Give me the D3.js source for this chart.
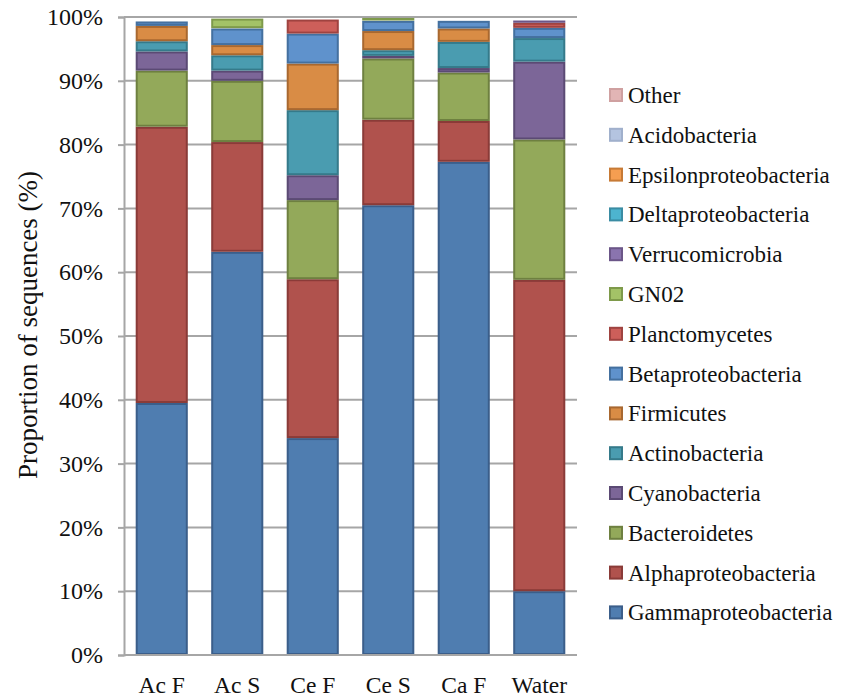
<!DOCTYPE html>
<html>
<head>
<meta charset="utf-8">
<script src="https://cdn.jsdelivr.net/npm/d3@7"></script>
<style>
  body { margin: 0; background: #fff; }
  svg text { font-family: "Liberation Serif", "Times New Roman", Times, "DejaVu Serif", serif !important; fill: #111; }
</style>
</head>
<body>
<svg id="chart" width="843" height="698"></svg>
<script>
// Samples along the x axis
const categories = ["Ac F", "Ac S", "Ce F", "Ce S", "Ca F", "Water"];

// Series in stacking order (bottom to top)
const seriesNames = ["Gammaproteobacteria", "Alphaproteobacteria", "Bacteroidetes", "Cyanobacteria",
    "Actinobacteria", "Firmicutes", "Betaproteobacteria", "Planctomycetes", "GN02",
    "Verrucomicrobia", "Deltaproteobacteria", "Epsilonproteobacteria", "Acidobacteria", "Other"];

// Percent of sequences per sample, one array per taxon (same order as categories)
const gamma    = [39.5, 63.2, 34.0, 70.5, 77.3, 10.0];
const alpha    = [43.3, 17.2, 24.9, 13.4, 6.4, 48.8];
const bacter   = [8.8, 9.6, 12.4, 9.6, 7.6, 22.0];
const cyano    = [3.0, 1.6, 3.9, 0.4, 0.7, 12.2];
const actino   = [1.6, 2.4, 10.2, 0.9, 4.1, 3.7];
const firmic   = [2.4, 1.6, 7.3, 3.0, 2.1, 0.0];
const beta     = [0.7, 2.6, 4.7, 1.6, 1.2, 1.6];
const plancto  = [0.3, 0.05, 2.2, 0.05, 0.05, 0.8];
const gn02     = [0.05, 1.5, 0.05, 0.4, 0.2, 0.0];
const verruco  = [0.05, 0.1, 0.05, 0.05, 0.15, 0.35];
const delta    = [0.05, 0.05, 0.2, 0.0, 0.05, 0.0];
const epsilon  = [0.05, 0.0, 0.0, 0.0, 0.0, 0.25];
const acido    = [0.0, 0.0, 0.05, 0.0, 0.0, 0.0];
const other    = [0.2, 0.1, 0.05, 0.1, 0.15, 0.3];

const yTicks = [0, 0.1, 0.2, 0.3, 0.4, 0.5, 0.6, 0.7, 0.8, 0.9, 1.0];

const fills   = ["#4f7db0", "#b0524d", "#93a95a", "#7c6698", "#4a9cb0", "#d98c45", "#5f92cc",
                 "#cd5f5a", "#a3c267", "#8a74ae", "#4db4cf", "#f59e51", "#b4c4e0", "#e2b5b5"];
const strokes = ["#3b5e8a", "#8a3b38", "#6e8040", "#5b4a74", "#357a8a", "#a86830", "#44709f",
                 "#9f4340", "#7e9a4a", "#6b5688", "#3a8ca3", "#c77a35", "#a0b0cc", "#cfa0a0"];

const allSeries = [gamma, alpha, bacter, cyano, actino, firmic, beta, plancto, gn02,
    verruco, delta, epsilon, acido, other];

// build table for d3.stack
const table = categories.map((c, i) => {
    const row = { cat: c };
    seriesNames.forEach((s, j) => { row[s] = allSeries[j][i]; });
    return row;
});

const svg = d3.select("#chart");
const plotLeft = 124, plotRight = 577, plotTop = 17, plotBottom = 655;

const x = d3.scaleBand()
    .domain(categories)
    .range([plotLeft, plotRight])
    .paddingInner(0.31)
    .paddingOuter(0.155);

const y = d3.scaleLinear()
    .domain([0, 1])
    .range([plotBottom, plotTop]);

const color = d3.scaleOrdinal().domain(seriesNames).range(fills);
const edge = d3.scaleOrdinal().domain(seriesNames).range(strokes);

// gridlines
svg.append("g")
    .selectAll("line")
    .data(yTicks.slice(1))
    .join("line")
    .attr("x1", plotLeft).attr("x2", plotRight)
    .attr("y1", d => y(d)).attr("y2", d => y(d))
    .attr("stroke", "#a6a6a6")
    .attr("stroke-width", 2);

// y axis
const yAxis = svg.append("g")
    .attr("transform", `translate(${plotLeft},0)`)
    .call(d3.axisLeft(y).tickValues(yTicks).tickFormat(d3.format(".0%")).tickSize(6).tickPadding(15));
yAxis.select(".domain").attr("stroke", "#a6a6a6").attr("stroke-width", 2);
yAxis.selectAll(".tick line").attr("stroke", "#a6a6a6").attr("stroke-width", 2);
yAxis.selectAll("text")
    .style("font-size", "24px")
    .attr("fill", "#111");

// stacked bars
const stack = d3.stack().keys(seriesNames).offset(d3.stackOffsetExpand);
const layers = stack(table);

svg.append("g")
    .selectAll("g")
    .data(layers)
    .join("g")
    .attr("fill", d => color(d.key))
    .attr("stroke", d => edge(d.key))
    .selectAll("rect")
    .data(d => d)
    .join("rect")
    .attr("x", d => x(d.data.cat) + 1)
    .attr("y", d => y(d[1]) + 1)
    .attr("width", x.bandwidth() - 2)
    .attr("height", d => Math.max(0, y(d[0]) - y(d[1]) - 2))
    .attr("stroke-width", 2);

// x axis
const xAxis = svg.append("g")
    .attr("transform", `translate(0,${plotBottom})`)
    .call(d3.axisBottom(x).tickSize(0).tickPadding(21));
xAxis.select(".domain").attr("stroke", "#a6a6a6").attr("stroke-width", 2)
    .attr("d", `M${plotLeft},0H${plotRight}`);
xAxis.selectAll("text")
    .style("font-size", "23.5px")
    .attr("fill", "#111");

// y axis title
svg.append("text")
    .attr("transform", `translate(37,${(plotTop + plotBottom) / 2 - 11}) rotate(-90)`)
    .attr("text-anchor", "middle")
    .style("font-size", "27px")
    .text("Proportion of sequences (%)");

// legend (reverse order, Other on top)
const legendItems = seriesNames.slice().reverse();
const legend = svg.append("g")
    .selectAll("g")
    .data(legendItems)
    .join("g")
    .attr("transform", (d, i) => `translate(610,${96 + i * 39.8})`);

legend.append("rect")
    .attr("x", 0).attr("y", -7)
    .attr("width", 12).attr("height", 12)
    .attr("fill", d => color(d))
    .attr("stroke", d => edge(d))
    .attr("stroke-width", 2);

legend.append("text")
    .attr("x", 18)
    .attr("y", 7)
    .style("font-size", "23px")
    .text(d => d);
</script>
</body>
</html>
